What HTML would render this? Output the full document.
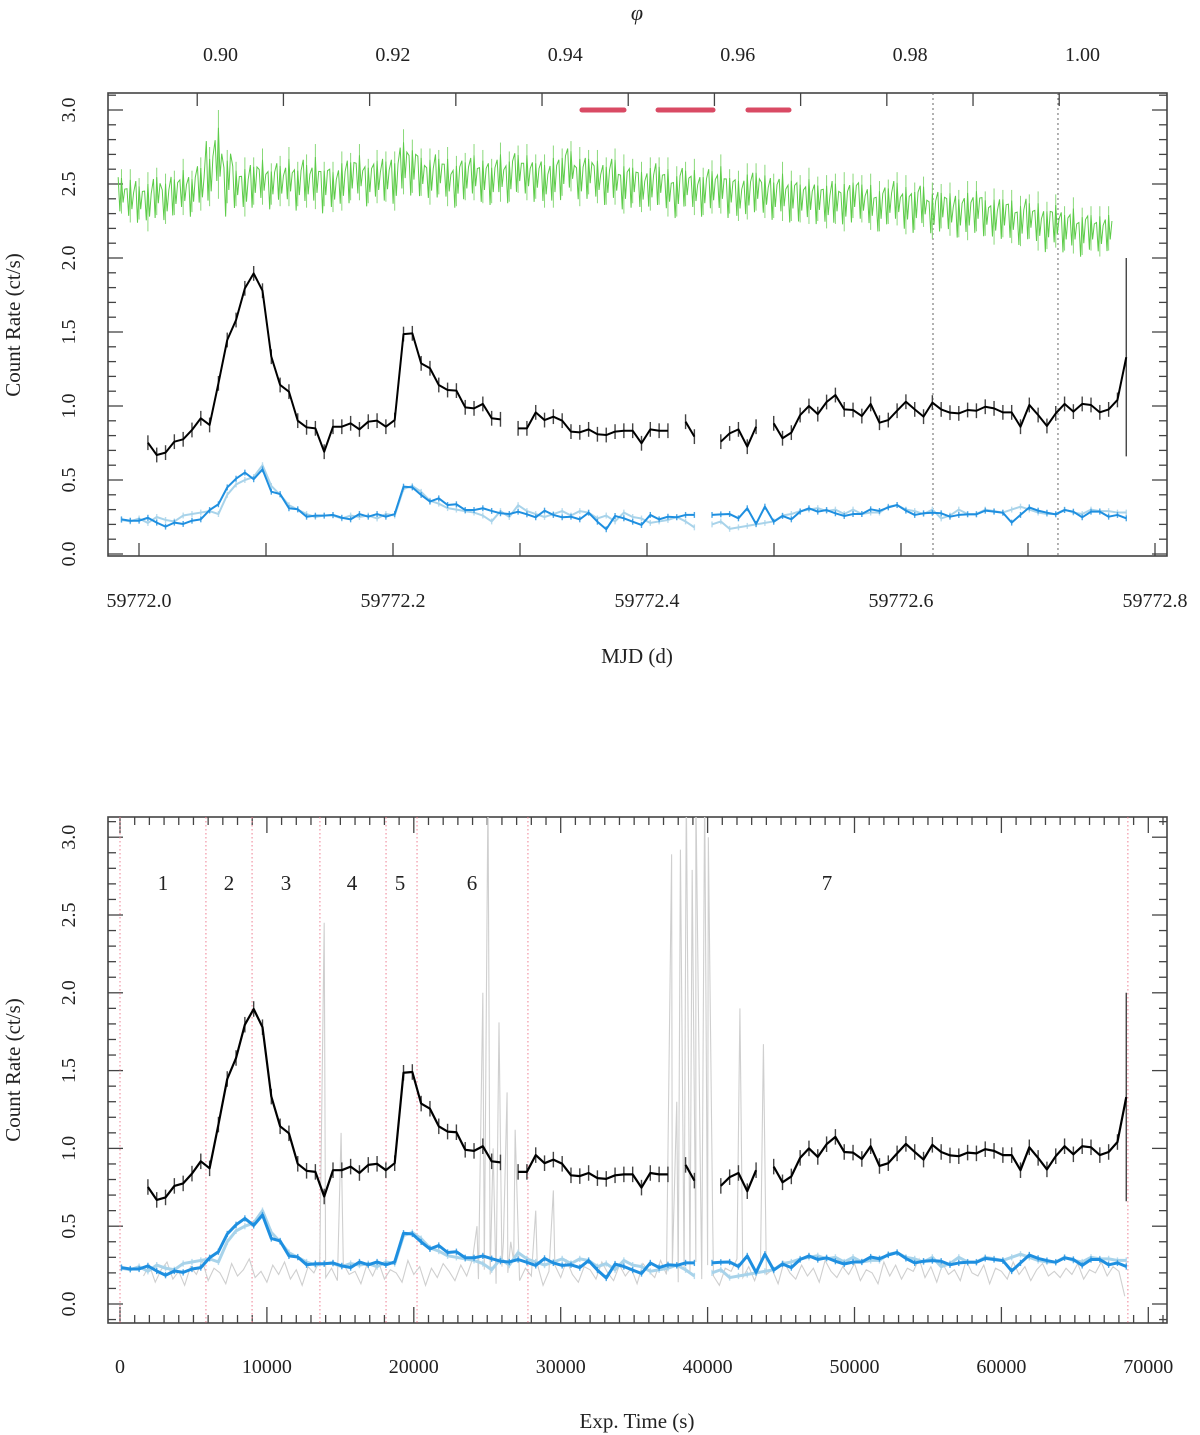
<!DOCTYPE html>
<html><head><meta charset="utf-8"><style>
html,body{margin:0;padding:0;background:#fff;}
svg{display:block;}
text{font-family:"Liberation Serif",serif;fill:#222;}
</style></head><body>
<svg id="fig" width="1200" height="1435" viewBox="0 0 1200 1435" xmlns="http://www.w3.org/2000/svg">
<defs>
<clipPath id="clipTop"><rect x="108" y="93" width="1059" height="463"/></clipPath>
<clipPath id="clipBot"><rect x="108" y="817" width="1059" height="506"/></clipPath>
</defs>
<g id="panelTopG"></g>
<g id="panelBotG"></g>
</svg>
<script>
// ---------- data ----------
const binSize = 600; // s
const blackRate = [null,null,null,.752,.669,.685,.759,.775,.838,.917,.872,1.153,1.446,1.581,1.795,1.896,1.779,1.333,1.142,1.097,.901,.856,.849,.691,.860,.860,.883,.842,.894,.901,.860,.905,1.486,1.491,1.288,1.255,1.142,1.108,1.104,.991,.984,1.014,.917,.910,null,.849,.849,.957,.905,.928,.901,.827,.822,.842,.809,.804,.827,.833,.833,.748,.842,.833,.833,null,.894,.793,null,null,.759,.815,.842,.725,.860,null,.883,.782,.820,.939,1.0,.945,1.027,1.074,.977,.973,.932,1.014,.887,.905,.968,1.029,.977,.928,1.023,.977,.955,.950,.973,.968,.995,.984,.957,.957,.860,1.007,.939,.865,.950,1.014,.962,1.014,1.007,.957,.977,1.041,1.33];
const blackErr = 0.05;
const blackLastErr = 0.67;
const blueRate = [.234,.225,.225,.245,.212,.185,.212,.203,.225,.234,.297,.336,.450,.509,.550,.505,.572,.421,.405,.309,.302,.252,.259,.259,.264,.245,.234,.270,.252,.270,.252,.270,.455,.450,.399,.354,.376,.331,.336,.297,.297,.309,
.291,.275,.270,.286,.268,.248,.293,.264,.248,.252,.234,.279,.218,.167,.257,.241,.218,.196,.264,.234,.252,.248,.264,.264,null,
.264,.268,.270,.241,.309,.203,.320,.218,.257,.234,.286,.309,.286,.297,
.275,.257,.270,.270,.302,.291,.315,.331,.293,.264,.275,.279,.275,.252,.264,.268,.268,.293,.286,.279,.212,.264,.315,.293,.279,.268,.297,.286,.248,.286,.286,.252,.264,.241];
const lightBlueRate = [.23,.22,.24,.21,.25,.23,.22,.26,.27,.28,.29,.27,.40,.47,.50,.52,.60,.46,.40,.33,.30,.27,.25,.26,.26,.24,.26,.25,.26,.24,.27,.26,.44,.46,.42,.36,.34,.31,.30,.29,.28,.26,
.22,.29,.25,.33,.29,.27,.25,.27,.29,.26,.29,.28,.24,.26,.22,.28,.25,.24,.21,.22,.23,.25,.22,.18,null,
.20,.22,.17,.18,.19,.20,.21,.22,.26,.27,.29,.30,.31,.29,
.30,.27,.30,.27,.28,.28,.32,.33,.30,.29,.27,.30,.24,.26,.30,.27,.27,.30,.29,.28,.30,.32,.30,.28,.27,.27,.30,.28,.27,.30,.29,.29,.28,.28];
const greenRate = [2.45,2.42,2.40,2.38,2.45,2.40,2.44,2.48,2.45,2.50,2.55,2.70,2.55,2.50,2.48,2.52,2.55,2.50,2.52,2.55,2.50,
2.52,2.55,2.50,2.48,2.52,2.55,2.58,2.52,2.55,2.55,2.52,2.65,2.62,2.58,2.55,2.58,2.55,2.52,2.55,2.58,
2.55,2.52,2.58,2.55,2.60,2.58,2.55,2.52,2.55,2.58,2.62,2.55,2.58,2.55,2.52,2.55,2.50,2.52,2.48,2.50,
2.52,2.48,2.45,2.50,2.48,2.45,2.48,2.50,2.45,2.42,2.45,2.48,2.45,2.42,2.45,2.42,2.40,2.42,2.40,2.38,
2.40,2.38,2.42,2.40,2.38,2.35,2.38,2.40,2.36,2.35,2.38,2.32,2.35,2.33,2.30,2.32,2.35,2.30,2.28,2.30,
2.28,2.25,2.28,2.25,2.22,2.25,2.20,2.22,2.18,2.20,2.18,2.20];
const greenErr = [.15,.18,.14,.2,.16,.17,.15,.19,.14,.18,.2,.3,.18,.15,.2,.16,.19,.14,.17,.2,.15,
.18,.22,.15,.17,.2,.16,.19,.15,.18,.17,.2,.22,.18,.16,.19,.15,.2,.17,.16,.19,
.18,.15,.2,.17,.16,.19,.15,.18,.21,.16,.17,.2,.15,.18,.16,.19,.2,.15,.17,.18,
.16,.2,.17,.15,.19,.16,.18,.2,.15,.17,.19,.16,.18,.15,.2,.17,.16,.19,.15,.18,
.17,.2,.15,.16,.19,.17,.15,.18,.2,.16,.17,.19,.15,.18,.16,.2,.17,.15,.19,.16,
.18,.17,.15,.2,.16,.18,.15,.19,.16,.15,.17,.15];
const grayStart = 1600, grayStep = 400;
const grayBase = [.18,.25,.14,.22,.27,.16,.21,.12,.24,.19,.28,.15,.23,.20,.13,.26,.18,.22,.29,.17,
.21,.14,.25,.19,.27,.16,.22,.12,.24,.20,.28,.17,.23,.15,.26,.19,.21,.13,.25,.18,
.27,.16,.22,.20,.14,.28,.19,.24,.12,.23,.17,.26,.21,.15,.25,.18,.29,.16,.22,.19,
.13,.24,.20,.27,.15,.23,.18,.26,.12,.21,.25,.17,.28,.19,.14,.24,.22,.16,.27,.20,
.15,.25,.18,.23,.13,.26,.21,.17,.28,.19,.24,.14,.22,.20,.27,.16,.25,.18,.12,.23,
.21,.29,.17,.24,.15,.26,.19,.22,.13,.27,.20,.16,.25,.18,.23,.14,.28,.21,.17,.24,
.19,.26,.15,.22,.20,.13,.27,.18,.25,.16,.23,.21,.29,.17,.24,.14,.26,.19,.22,.15,
.28,.20,.18,.25,.13,.23,.21,.16,.27,.19,.24,.15,.22,.26,.18,.21,.17,
.23,.19,.26,.16,.22,.20,.27,.18,.24,.21,.05];
const grayPeakT = [13900,15050,24300,24700,25050,25400,25800,26100,26350,26600,26900,28300,29500,37550,37900,38150,38550,38950,39200,39500,39800,40050,40350,42200,43800];
const grayPeakV = [2.45,1.1,0.5,2.0,3.3,1.0,1.81,0.4,1.36,0.4,1.12,0.6,0.73,2.89,1.3,2.92,3.3,2.79,3.3,0.9,3.3,3.0,0.5,1.9,1.67];
const orbitDashStart = [59772.3488,59772.4087,59772.4795];
const orbitDashEnd = [59772.3819,59772.4520,59772.5118];
const mjdMarkers = [59772.6252,59772.7236];
const segEdges = [0,5850,8990,13610,18110,20220,27770,68610];
const segLabels = ["1","2","3","4","5","6","7"];
const segLabelT = [2930,7420,11300,15790,19060,23960,48130];
const mjdTicks = ["59772.0","59772.2","59772.4","59772.6","59772.8"];
const phaseTicks = ["0.90","0.92","0.94","0.96","0.98","1.00"];
const rateTicks = ["0.0","0.5","1.0","1.5","2.0","2.5","3.0"];
const timeTicks = ["0","10000","20000","30000","40000","50000","60000","70000"];

// ---------- axes ----------
const NS="http://www.w3.org/2000/svg";
const xT = t => 120 + t*0.014690;
const xM = m => 139 + (m-59772)*1270;
const mjdOf = t => 59772 + (t*0.014690 - 19)/1270;
const xP = p => 220.5 + (p-0.90)*8620;
const yTop = v => 554 - 148*v;
const yBot = v => 1304 - 155.6*v;
const tOfBin = i => i*binSize + 100;

function el(tag, attrs, parent){ const e=document.createElementNS(NS,tag); for(const k in attrs) e.setAttribute(k,attrs[k]); parent.appendChild(e); return e; }
function txt(parent, x, y, s, size, extra){ const e=el('text',Object.assign({x:x,y:y,'font-size':size,'text-anchor':'middle'},extra||{}),parent); e.textContent=s; return e; }

const panelTop=document.getElementById('panelTopG'), panelBot=document.getElementById('panelBotG');
const FR='#444';

function frame(g, x0,y0,x1,y1){
  const r=el('rect',{x:x0,y:y0,width:x1-x0,height:y1-y0,fill:'none',stroke:FR,'stroke-width':1.6},g);
  
  
}
function yTicksAxis(g, yf, x0, x1, vmin, vmax){
  for(let k=Math.ceil(vmin*10);k<=vmax*10;k++){
    const v=k/10, y=yf(v), L=(k%5===0)?15:8;
    el('line',{x1:x0,y1:y,x2:x0+L,y2:y,stroke:FR,'stroke-width':1.3},g);
    el('line',{x1:x1,y1:y,x2:x1-L,y2:y,stroke:FR,'stroke-width':1.3},g);
  }
  rateTicks.forEach((s)=>{
    const v=parseFloat(s), y=yf(v);
    const t=txt(g,68,y+7,s,20,{transform:`rotate(-90 68 ${y})`});
    
    
  });
}

// ===== TOP PANEL =====
frame(panelTop,108,93,1167,556);
yTicksAxis(panelTop,yTop,108,1167,0,3.1);
for(let k=0;k<=8;k++){ const x=xM(59772+k*0.1); el('line',{x1:x,y1:556,x2:x,y2:543,stroke:FR,'stroke-width':1.3},panelTop); }
mjdTicks.forEach(s=>{ const t=txt(panelTop,xM(parseFloat(s)),607,s,20);
  
   });
for(let k=0;k<11;k++){ const x=xP(0.8973+k*0.01); if(x>108&&x<1167) el('line',{x1:x,y1:93,x2:x,y2:106,stroke:FR,'stroke-width':1.3},panelTop); }
phaseTicks.forEach(s=>{ const t=txt(panelTop,xP(parseFloat(s)),61,s,20);
  
   });
{ const t=txt(panelTop,637,20,'φ',22,{'font-style':'italic'});
  
   }
{ const t=txt(panelTop,637,663,'MJD (d)',21);
  
   }
{ const t=txt(panelTop,20,325,'Count Rate (ct/s)',21,{transform:'rotate(-90 20 325)'});
  
   }

const gT=el('g',{'clip-path':'url(#clipTop)'},panelTop);
mjdMarkers.forEach(m=>{ const l=el('line',{x1:xM(m),y1:93,x2:xM(m),y2:556,stroke:'#666','stroke-width':1,'stroke-dasharray':'2,3'},gT);
  
   });
orbitDashStart.forEach((m,i)=>{ const l=el('line',{x1:xM(m),y1:yTop(3.0),x2:xM(orbitDashEnd[i]),y2:yTop(3.0),stroke:'#d94a64','stroke-width':5,'stroke-linecap':'round'},gT);
  
   });

{
  let pts=[];
  const eb=el('g',{stroke:'#8ad97a','stroke-width':1},gT);
  
  
  const n=greenRate.length;
  greenRate.forEach((v,i)=>{
    const x=xM(mjdOf(tOfBin(i))), e=greenErr[i];
    const eN=greenErr[Math.min(n-1,i+1)], eP=greenErr[Math.max(0,i-1)];
    const vN=greenRate[Math.min(n-1,i+1)];
    pts.push([x-3.3,yTop(v+(eN-0.1)*1.2)],[x-1.6,yTop(v-eP*0.9)],[x,yTop(v+e*0.6)],[x+1.6,yTop(v-e*0.5)],[x+3.3,yTop((v+vN)/2+(eP-0.12))]);
    el('line',{x1:x,y1:yTop(v-e),x2:x,y2:yTop(v+e)},eb);
  });
  const p=el('polyline',{points:pts.map(q=>q.join(',')).join(' '),fill:'none',stroke:'#5ccc48','stroke-width':1},gT);
  
  
}

function drawSeries(g, vals, xf, yf, color, w, errColor, errFn, name){
  let seg=[];
  const segs=[];
  vals.forEach((v,i)=>{ if(v===null){ if(seg.length) segs.push(seg); seg=[]; return; } seg.push([xf(tOfBin(i)),yf(v),v,i]); });
  if(seg.length) segs.push(seg);
  const grp=el('g',{},g);
  
  
  segs.forEach(s=>{
    if(errColor){ s.forEach(q=>{ const e=errFn(q[3]); el('line',{x1:q[0],y1:yf(q[2]-e),x2:q[0],y2:yf(q[2]+e),stroke:errColor,'stroke-width':1.4},grp); }); }
    const pl=el('polyline',{points:s.map(q=>q[0]+','+q[1]).join(' '),fill:'none',stroke:color,'stroke-width':w,'stroke-linejoin':'round'},grp);
    
    
  });
}
const blkErr = i => (i===blackRate.length-1)?blackLastErr:blackErr;
const xTopT = t => xM(mjdOf(t));
drawSeries(gT, lightBlueRate, xTopT, yTop, '#a8d3ea', 2, '#b9dcee', ()=>0.02, 'light-blue-series');
drawSeries(gT, blueRate, xTopT, yTop, '#1e8fe0', 2, '#4aa6e6', ()=>0.02, 'blue-series');
drawSeries(gT, blackRate, xTopT, yTop, '#000', 2, '#444', blkErr, 'black-series');

// ===== BOTTOM PANEL =====
frame(panelBot,108,817,1167,1323);
yTicksAxis(panelBot,yBot,108,1167,-0.1,3.1);
for(let t=0;t<=72000;t+=1000){ const x=xT(t); if(x<109||x>1166) continue; const L=(t%10000===0)?16:8;
  el('line',{x1:x,y1:1323,x2:x,y2:1323-L,stroke:FR,'stroke-width':1.3},panelBot);
  el('line',{x1:x,y1:817,x2:x,y2:817+L,stroke:FR,'stroke-width':1.3},panelBot); }
timeTicks.forEach(s=>{ const t=txt(panelBot,xT(parseFloat(s)),1373,s,20);
  
   });
{ const t=txt(panelBot,637,1428,'Exp. Time (s)',21);
  
   }
{ const t=txt(panelBot,20,1070,'Count Rate (ct/s)',21,{transform:'rotate(-90 20 1070)'});
  
   }

const gB=el('g',{'clip-path':'url(#clipBot)'},panelBot);
segEdges.forEach(t=>{ const l=el('line',{x1:xT(t),y1:817,x2:xT(t),y2:1323,stroke:'#ee7f92','stroke-width':1,'stroke-dasharray':'1.5,2.5'},gB);
  
   });
segLabels.forEach((s,i)=>{ const t=txt(gB,xT(segLabelT[i]),890,s,21);
  
   });
{
  const pts=[];
  grayBase.forEach((v,k)=>pts.push([grayStart+k*grayStep,v]));
  grayPeakT.forEach((t,k)=>pts.push([t,grayPeakV[k]]));
  pts.sort((a,b)=>a[0]-b[0]);
  const p=el('polyline',{points:pts.map(q=>xT(q[0])+','+yBot(q[1])).join(' '),fill:'none',stroke:'#cfcfcf','stroke-width':1.1},gB);
  
  
}
drawSeries(gB, lightBlueRate, xT, yBot, '#a8d3ea', 3, '#b9dcee', ()=>0.02, 'light-blue-series');
drawSeries(gB, blueRate, xT, yBot, '#1e8fe0', 3, '#4aa6e6', ()=>0.02, 'blue-series');
drawSeries(gB, blackRate, xT, yBot, '#000', 2.2, '#444', blkErr, 'black-series');
</script>
</body></html>
